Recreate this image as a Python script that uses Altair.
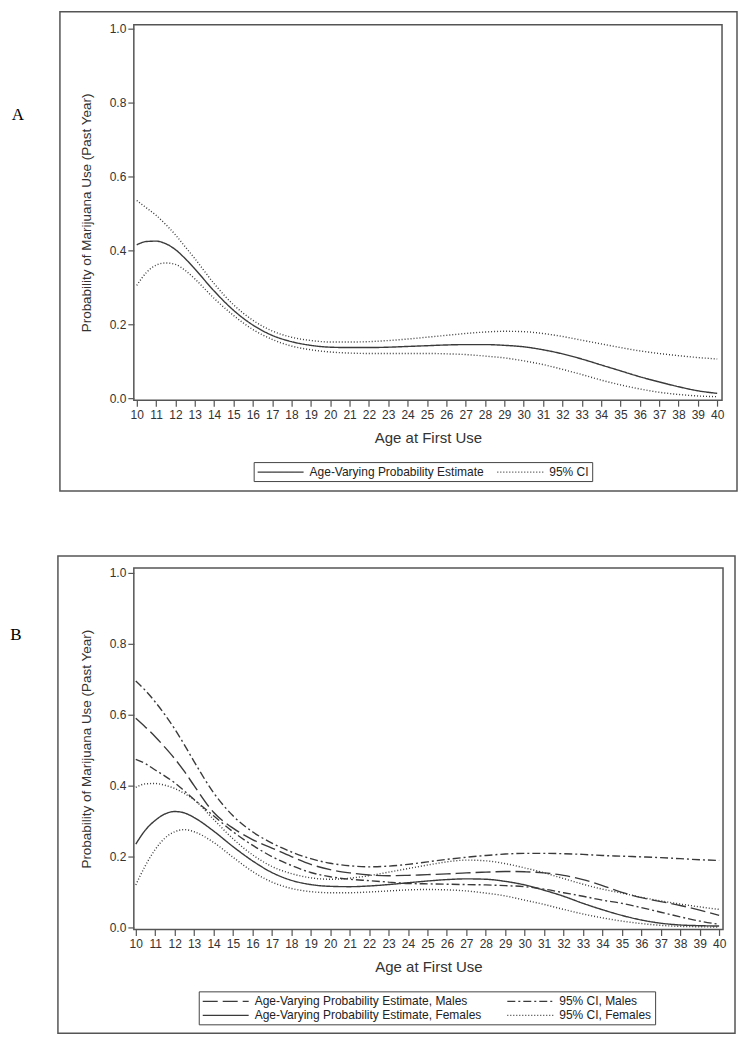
import altair as alt
import pandas as pd

# ---------------- data ----------------
ages = [10, 10.5, 11, 11.5, 12, 12.5, 13, 14, 15, 16, 17, 18, 19, 20, 21, 22, 23, 24, 25,
        26, 27, 28, 29, 30, 31, 32, 33, 34, 35, 36, 37, 38, 39, 40]

# Panel A
a_est = [0.415, 0.424, 0.425, 0.418, 0.402, 0.378, 0.350,
         0.290, 0.238, 0.198, 0.170, 0.153, 0.143, 0.138,
         0.137, 0.137, 0.138, 0.140, 0.142,
         0.144, 0.145, 0.145, 0.143, 0.139,
         0.131, 0.120, 0.106, 0.090, 0.074,
         0.058, 0.044, 0.031, 0.020, 0.013]
a_hi = [0.535, 0.515, 0.495, 0.470, 0.442, 0.410, 0.378,
        0.310, 0.253, 0.211, 0.182, 0.165, 0.156, 0.152,
        0.152, 0.153, 0.156, 0.160, 0.165,
        0.170, 0.175, 0.179, 0.181, 0.180,
        0.175, 0.167, 0.157, 0.147, 0.137,
        0.128, 0.121, 0.115, 0.110, 0.106]
a_lo = [0.305, 0.340, 0.360, 0.366, 0.362, 0.346, 0.323,
        0.270, 0.224, 0.186, 0.159, 0.141, 0.131, 0.125,
        0.122, 0.121, 0.121, 0.121, 0.121,
        0.120, 0.118, 0.114, 0.109, 0.101,
        0.091, 0.078, 0.064, 0.049, 0.036,
        0.025, 0.016, 0.010, 0.006, 0.004]

# Panel B
m_est = [0.590, 0.565, 0.538, 0.508, 0.476, 0.440, 0.400,
         0.325, 0.280, 0.248, 0.224, 0.200, 0.178, 0.163,
         0.154, 0.148, 0.146, 0.147, 0.149,
         0.151, 0.154, 0.156, 0.158, 0.157,
         0.154, 0.147, 0.135, 0.118, 0.099,
         0.084, 0.073, 0.062, 0.049, 0.034]
m_hi = [0.695, 0.668, 0.636, 0.600, 0.560, 0.515, 0.468,
        0.380, 0.315, 0.270, 0.238, 0.213, 0.194, 0.181,
        0.174, 0.171, 0.173, 0.178, 0.185,
        0.192, 0.198, 0.203, 0.207, 0.209,
        0.209, 0.208, 0.206, 0.203, 0.201,
        0.199, 0.197, 0.194, 0.191, 0.189]
m_lo = [0.474, 0.462, 0.444, 0.427, 0.408, 0.385, 0.361,
        0.315, 0.270, 0.232, 0.200, 0.175, 0.155, 0.143,
        0.136, 0.132, 0.128, 0.124, 0.123,
        0.122, 0.121, 0.120, 0.118, 0.115,
        0.108, 0.098, 0.088, 0.077, 0.068,
        0.056, 0.043, 0.030, 0.018, 0.009]
f_est = [0.235, 0.275, 0.302, 0.320, 0.327, 0.323, 0.310,
         0.272, 0.228, 0.188, 0.155, 0.133, 0.121, 0.116,
         0.115, 0.117, 0.121, 0.126, 0.131,
         0.135, 0.137, 0.136, 0.130, 0.120,
         0.105, 0.088, 0.068, 0.050, 0.034,
         0.021, 0.012, 0.007, 0.005, 0.004]
f_hi = [0.395, 0.405, 0.406, 0.401, 0.392, 0.378, 0.360,
        0.305, 0.250, 0.205, 0.172, 0.152, 0.140, 0.136,
        0.139, 0.146, 0.156, 0.166, 0.176,
        0.185, 0.190, 0.188, 0.180, 0.168,
        0.154, 0.138, 0.122, 0.108, 0.097,
        0.085, 0.075, 0.066, 0.058, 0.051]
f_lo = [0.120, 0.175, 0.220, 0.252, 0.270, 0.276, 0.270,
        0.240, 0.198, 0.158, 0.128, 0.110, 0.101, 0.098,
        0.098, 0.100, 0.103, 0.106, 0.107,
        0.106, 0.103, 0.097, 0.089, 0.077,
        0.065, 0.051, 0.038, 0.027, 0.018,
        0.011, 0.006, 0.003, 0.002, 0.001]

x_ticks = list(range(10, 41))
y_ticks = [0.0, 0.2, 0.4, 0.6, 0.8, 1.0]

LAB_A_EST = "Age-Varying Probability Estimate"
LAB_A_CI = "95% CI"
LAB_M_EST = "Age-Varying Probability Estimate, Males"
LAB_M_CI = "95% CI, Males"
LAB_F_EST = "Age-Varying Probability Estimate, Females"
LAB_F_CI = "95% CI, Females"

X_TITLE = "Age at First Use"
Y_TITLE = "Probability of Marijuana Use (Past Year)"


def to_long(items):
    rows = []
    for label, line_id, vals in items:
        for a, v in zip(ages, vals):
            rows.append({"age": a, "p": v, "series": label, "line": line_id})
    return pd.DataFrame(rows)


df_a = to_long([(LAB_A_EST, "est", a_est), (LAB_A_CI, "hi", a_hi), (LAB_A_CI, "lo", a_lo)])
df_b = to_long([(LAB_M_EST, "mest", m_est), (LAB_M_CI, "mhi", m_hi), (LAB_M_CI, "mlo", m_lo),
                (LAB_F_EST, "fest", f_est), (LAB_F_CI, "fhi", f_hi), (LAB_F_CI, "flo", f_lo)])
one = pd.DataFrame({"k": [0]})

FONT = "Liberation Sans"
INK = "#3a3a3a"
# legend sample line: a 46 px long horizontal stroke (symbol scale = sqrt(144)/2 = 6 px/unit)
SAMPLE_PATH = "M-1,0H6.667"


def panel(df, dash_domain, dash_range, letter, letter_xy, box, xdom, ydom, w, h, leg):
    x = alt.X("age:Q",
              scale=alt.Scale(domain=xdom, nice=False, zero=False),
              axis=alt.Axis(values=x_ticks, title=X_TITLE, format="d", labelOverlap=False,
                            labelPadding=3, titlePadding=10, titleFontSize=15))
    y = alt.Y("p:Q",
              scale=alt.Scale(domain=ydom, nice=False, zero=False),
              axis=alt.Axis(values=y_ticks, format=".1f", title=Y_TITLE,
                            labelPadding=2, titlePadding=16, titleFontSize=13.5))
    lines = alt.Chart(df).mark_line(interpolate="monotone", strokeWidth=1.4, color=INK).encode(
        x=x, y=y,
        strokeDash=alt.StrokeDash("series:N",
                                  scale=alt.Scale(domain=dash_domain, range=dash_range),
                                  legend=alt.Legend(title=None, orient="none",
                                                    legendX=leg[0], legendY=leg[1],
                                                    direction="horizontal", columns=leg[2],
                                                    symbolType=SAMPLE_PATH, symbolSize=144,
                                                    symbolStrokeWidth=1.3, symbolStrokeColor=INK,
                                                    labelFont=FONT, labelFontSize=12,
                                                    labelColor="#222", labelOffset=39,
                                                    labelLimit=400,
                                                    strokeColor="#444", padding=3,
                                                    columnPadding=leg[3], rowPadding=1)),
        detail="line:N",
    )
    frame = alt.Chart(one).mark_rect(fillOpacity=0, stroke="#555", strokeWidth=1.5).encode(
        x=alt.value(box[0]), x2=alt.value(box[1]), y=alt.value(box[2]), y2=alt.value(box[3]))
    lab = alt.Chart(one).mark_text(font="Liberation Serif", fontSize=17, color="#000").encode(
        x=alt.value(letter_xy[0]), y=alt.value(letter_xy[1]), text=alt.value(letter))
    return alt.layer(frame, lab, lines).properties(width=w, height=h)


pA = panel(df_a, [LAB_A_EST, LAB_A_CI], [[1, 0], [1, 2]], "A", (-116, 90),
           (-74, 604, -13, 467), [9.85, 40.25], [-0.0054, 1.0108], 589, 376,
           (120, 438, 2, 10))
pB = panel(df_b, [LAB_M_EST, LAB_M_CI, LAB_F_EST, LAB_F_CI],
           [[15, 5], [8, 3, 2, 3], [1, 0], [1, 2]], "B", (-118, 67),
           (-76, 602, -12, 466), [9.9, 40.2], [-0.0056, 1.014], 590, 362,
           (65, 424, 2, 22))

chart = alt.vconcat(pA, pB, spacing=61).resolve_scale(
    x="independent", y="independent", strokeDash="independent"
).resolve_legend(strokeDash="independent").properties(
    padding={"left": 1, "top": 1, "right": 0, "bottom": 2},
    background="white"
).configure_view(stroke="#555", strokeWidth=1.5).configure_axis(
    labelFont=FONT, titleFont=FONT, labelColor="#333", titleColor="#333",
    titleFontWeight="normal", labelFontSize=12, tickColor="#555", tickSize=6,
    tickWidth=1.2, domain=False, grid=False
)

chart.save("out.html", embed_options={"renderer": "svg", "actions": False})
